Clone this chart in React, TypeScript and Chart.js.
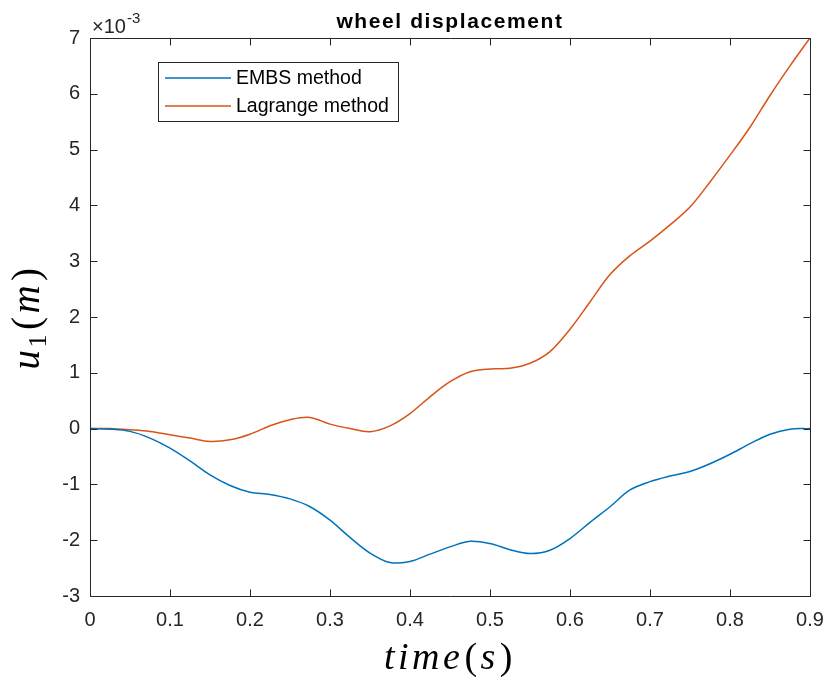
import React, { useEffect, useRef } from "react";
import { Chart, registerables } from "chart.js";

Chart.register(...registerables);

// Sample times (s)
const timeS = [
  0, 0.025, 0.05, 0.075, 0.1, 0.125, 0.15, 0.175, 0.2, 0.225, 0.25, 0.275, 0.3, 0.325, 0.35,
  0.375, 0.4, 0.425, 0.45, 0.475, 0.5, 0.525, 0.55, 0.575, 0.6, 0.625, 0.65, 0.675, 0.7,
  0.725, 0.75, 0.775, 0.8, 0.825, 0.85, 0.875, 0.9,
];

// Wheel displacement u1, in units of 1e-3 m
const embsMethod = [
  0, -0.01, -0.05, -0.17, -0.35, -0.58, -0.83, -1.02, -1.14, -1.18, -1.26, -1.4, -1.64, -1.95,
  -2.23, -2.4, -2.38, -2.25, -2.12, -2.02, -2.06, -2.17, -2.24, -2.18, -1.97, -1.68, -1.4,
  -1.1, -0.95, -0.85, -0.77, -0.63, -0.46, -0.27, -0.1, -0.01, 0,
];

const lagrangeMethod = [
  0, 0, -0.02, -0.05, -0.11, -0.17, -0.23, -0.2, -0.1, 0.05, 0.16, 0.2, 0.08, 0.0, -0.055,
  0.05, 0.27, 0.57, 0.84, 1.02, 1.07, 1.08, 1.17, 1.38, 1.78, 2.27, 2.76, 3.1, 3.36, 3.65,
  3.97, 4.42, 4.9, 5.4, 5.97, 6.5, 7.0,
];

const seriesNames = ["EMBS method", "Lagrange method"];
const seriesColors = ["#0072BD", "#D95319"];
const xTickValues = [0, 0.1, 0.2, 0.3, 0.4, 0.5, 0.6, 0.7, 0.8, 0.9];
const yTickValues = [-3, -2, -1, 0, 1, 2, 3, 4, 5, 6, 7];
const chartTitle = "wheel displacement";
const exponentBase = "\u00d710";
const exponentPower = "-3";

const AXIS_COLOR = "#262626";
const SANS = "'Liberation Sans', Arial, sans-serif";
const SERIF = "'Liberation Serif', 'Times New Roman', serif";

type Seg = { text: string; font: string; dy?: number; gap?: number };

function drawSegsCentered(
  ctx: CanvasRenderingContext2D,
  segs: Seg[],
  spacing: number,
  cx: number,
  baseline: number
) {
  (ctx as any).letterSpacing = `${spacing}px`;
  let total = 0;
  segs.forEach((s) => {
    ctx.font = s.font;
    total += ctx.measureText(s.text).width + (s.gap || 0);
  });
  let x = cx - total / 2;
  ctx.textAlign = "left";
  ctx.textBaseline = "alphabetic";
  segs.forEach((s) => {
    ctx.font = s.font;
    ctx.fillText(s.text, x, baseline + (s.dy || 0));
    x += ctx.measureText(s.text).width + (s.gap || 0);
  });
  (ctx as any).letterSpacing = "0px";
}

const matlabFrame = {
  id: "matlabFrame",
  afterDatasetsDraw(chart: any) {
    const { ctx, chartArea: a, scales } = chart;
    const l = Math.round(a.left) + 0.5;
    const r = Math.round(a.right) + 0.5;
    const t = Math.round(a.top) + 0.5;
    const b = Math.round(a.bottom) + 0.5;
    const tick = 7;
    ctx.save();
    ctx.strokeStyle = AXIS_COLOR;
    ctx.lineWidth = 1;
    ctx.beginPath();
    ctx.rect(l, t, r - l, b - t);
    xTickValues.forEach((v) => {
      const px = Math.round(scales.x.getPixelForValue(v)) + 0.5;
      ctx.moveTo(px, b);
      ctx.lineTo(px, b - tick);
      ctx.moveTo(px, t);
      ctx.lineTo(px, t + tick);
    });
    yTickValues.forEach((v) => {
      const py = Math.round(scales.y.getPixelForValue(v)) + 0.5;
      ctx.moveTo(l, py);
      ctx.lineTo(l + tick, py);
      ctx.moveTo(r, py);
      ctx.lineTo(r - tick, py);
    });
    ctx.stroke();

    // Title
    ctx.fillStyle = "#000";
    ctx.font = `bold 21px ${SANS}`;
    (ctx as any).letterSpacing = "1.6px";
    ctx.textAlign = "center";
    ctx.textBaseline = "alphabetic";
    ctx.fillText(chartTitle, (a.left + a.right) / 2, 28);
    (ctx as any).letterSpacing = "0px";

    // Exponent label above the y axis
    ctx.fillStyle = AXIS_COLOR;
    ctx.textAlign = "left";
    ctx.font = `20px ${SANS}`;
    ctx.fillText(exponentBase, a.left + 2, 33);
    const w10 = ctx.measureText(exponentBase).width;
    ctx.font = `15px ${SANS}`;
    ctx.fillText(exponentPower, a.left + 2 + w10 + 1, 23);

    // Axis titles in math style
    ctx.fillStyle = "#000";
    drawSegsCentered(
      ctx,
      [
        { text: "time", font: `italic 38px ${SERIF}`, gap: 1 },
        { text: "(", font: `38px ${SERIF}` },
        { text: "s", font: `italic 38px ${SERIF}`, gap: 1 },
        { text: ")", font: `38px ${SERIF}` },
      ],
      3.5,
      (a.left + a.right) / 2,
      669
    );
    ctx.save();
    ctx.translate(39, (a.top + a.bottom) / 2);
    ctx.rotate(-Math.PI / 2);
    drawSegsCentered(
      ctx,
      [
        { text: "u", font: `italic 39px ${SERIF}`, gap: -1 },
        { text: "1", font: `26px ${SERIF}`, dy: 7, gap: 1 },
        { text: "(", font: `39px ${SERIF}` },
        { text: "m", font: `italic 39px ${SERIF}`, gap: 1 },
        { text: ")", font: `39px ${SERIF}` },
      ],
      3.5,
      0,
      0
    );
    ctx.restore();

    // Legend box
    const lx = 158.5, ly = 62.5, lw = 240, lh = 59;
    ctx.fillStyle = "#fff";
    ctx.fillRect(lx, ly, lw, lh);
    ctx.strokeStyle = AXIS_COLOR;
    ctx.strokeRect(lx, ly, lw, lh);
    const rows = [78, 106];
    chart.data.datasets.forEach((ds: any, i: number) => {
      ctx.strokeStyle = ds.borderColor;
      ctx.lineWidth = 1.5;
      ctx.beginPath();
      ctx.moveTo(165, rows[i]);
      ctx.lineTo(231, rows[i]);
      ctx.stroke();
      ctx.fillStyle = "#000";
      ctx.font = `19.5px ${SANS}`;
      ctx.textAlign = "left";
      ctx.textBaseline = "middle";
      ctx.fillText(ds.label, 236, rows[i] + 1);
    });
    ctx.restore();
  },
};

export default function App() {
  const canvasRef = useRef<HTMLCanvasElement | null>(null);

  useEffect(() => {
    const canvas = canvasRef.current;
    if (!canvas) return;
    const series = [embsMethod, lagrangeMethod];
    const chart = new Chart(canvas, {
      type: "line",
      data: {
        datasets: series.map((vals, i) => ({
          label: seriesNames[i],
          data: timeS.map((t, j) => ({ x: t, y: vals[j] })),
          borderColor: seriesColors[i],
          backgroundColor: seriesColors[i],
          borderWidth: 1.5,
          pointRadius: 0,
          tension: 0.35,
          fill: false,
        })),
      },
      options: {
        responsive: false,
        devicePixelRatio: 1,
        animation: false,
        layout: { padding: { top: 38, right: 21, bottom: 0, left: 0 } },
        plugins: {
          legend: { display: false },
          title: { display: false },
          tooltip: { enabled: false },
        },
        scales: {
          x: {
            type: "linear",
            min: 0,
            max: 0.9,
            grid: { display: false, drawTicks: false },
            border: { display: false },
            afterBuildTicks: (scale: any) => {
              scale.ticks = xTickValues.map((v) => ({ value: v }));
            },
            afterFit: (scale: any) => {
              scale.height = 86;
              scale.paddingLeft = 0;
              scale.paddingRight = 0;
            },
            ticks: {
              padding: 12,
              color: AXIS_COLOR,
              font: { family: SANS, size: 20 },
              maxRotation: 0,
              callback: (v: any) => String(Math.round(Number(v) * 10) / 10),
            },
          },
          y: {
            type: "linear",
            min: -3,
            max: 7,
            grid: { display: false, drawTicks: false },
            border: { display: false },
            afterBuildTicks: (scale: any) => {
              scale.ticks = yTickValues.map((v) => ({ value: v }));
            },
            afterFit: (scale: any) => {
              scale.width = 90;
              scale.paddingTop = 0;
              scale.paddingBottom = 0;
            },
            ticks: {
              padding: 10,
              color: AXIS_COLOR,
              font: { family: SANS, size: 20 },
              callback: (v: any) => String(v),
            },
          },
        },
      },
      plugins: [matlabFrame],
    });
    return () => chart.destroy();
  }, []);

  return (
    <div
      style={{
        position: "fixed",
        left: 0,
        top: 0,
        width: 831,
        height: 682,
        background: "#fff",
      }}
    >
      <canvas ref={canvasRef} width={831} height={682} style={{ display: "block" }} />
    </div>
  );
}
